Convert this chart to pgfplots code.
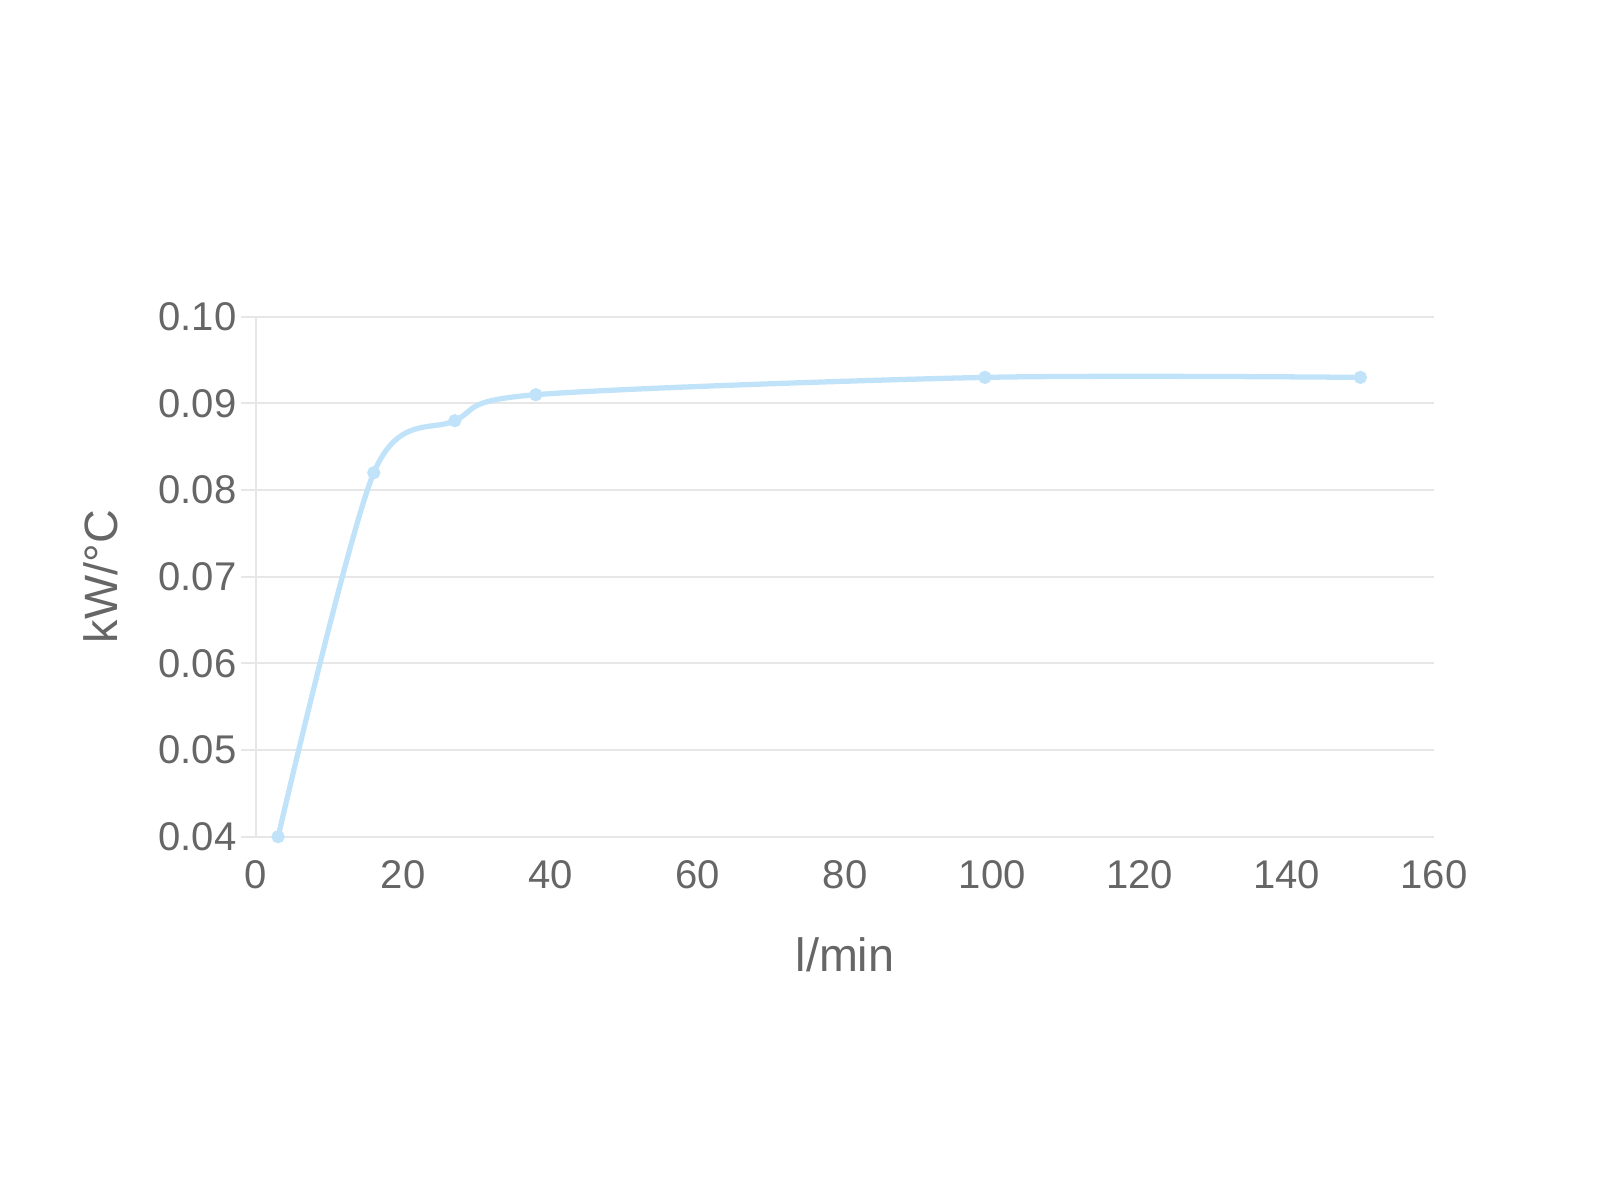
\documentclass[border=0pt]{standalone}
\usepackage{fontspec}
\setmainfont{Liberation Sans}
\usepackage{pgfplots}
\pgfplotsset{compat=1.18}

\definecolor{linecol}{RGB}{192,227,249}
\definecolor{gridcol}{RGB}{231,231,231}
\definecolor{textcol}{RGB}{102,102,102}

\begin{document}
\begin{tikzpicture}
\path[use as bounding box] (0,0) rectangle (16cm,12cm);
\begin{axis}[
    at={(2.56cm,3.633cm)}, anchor=south west,
    scale only axis,
    width=11.78cm, height=5.2cm,
    xmin=0, xmax=160, ymin=0.04, ymax=0.10,
    xtick={0,20,...,160},
    ytick={0.04,0.05,...,0.10},
    axis line style={draw=none},
    axis x line*=bottom, axis y line*=left,
    ymajorgrids,
    grid style={gridcol, line width=0.6pt},
    major tick length=0pt,
    extra description/.code={
        \draw[gridcol, line width=0.6pt] (axis description cs:0,0) -- (axis description cs:0,1);
        \foreach \yy in {0,1,...,6} {
            \draw[gridcol, line width=0.6pt] (axis description cs:0,\yy/6) -- ++(-0.15cm,0);
        }
    },
    /pgf/number format/assume math mode=true,
    scaled y ticks=false,
    yticklabel style={/pgf/number format/fixed, /pgf/number format/fixed zerofill, /pgf/number format/precision=2},
    tick label style={font=\fontsize{11.4}{13}\selectfont, text=textcol, inner sep=0pt},
    yticklabel style={anchor=east, xshift=-0.19cm},
    xticklabel style={anchor=north, yshift=-0.23cm},
    label style={font=\fontsize{13.3}{15}\selectfont, text=textcol},
    xlabel={l/min},
    ylabel={kW/°C},
    xlabel style={at={(axis description cs:0.5,-0.26)}, anchor=base, inner sep=0pt},
    ylabel style={at={(axis description cs:-0.1321,0.5)}, anchor=center, inner sep=0pt},
    clip=false,
]
\addplot[linecol, line width=1.5pt, smooth, tension=0.5,
    mark=*, mark size=1.1pt, mark options={fill=linecol, draw=linecol}]
    coordinates {
    (3,0.040) (16,0.082) (27,0.088) (38,0.091) (99,0.093) (150,0.093)
};
\end{axis}
\end{tikzpicture}
\end{document}
